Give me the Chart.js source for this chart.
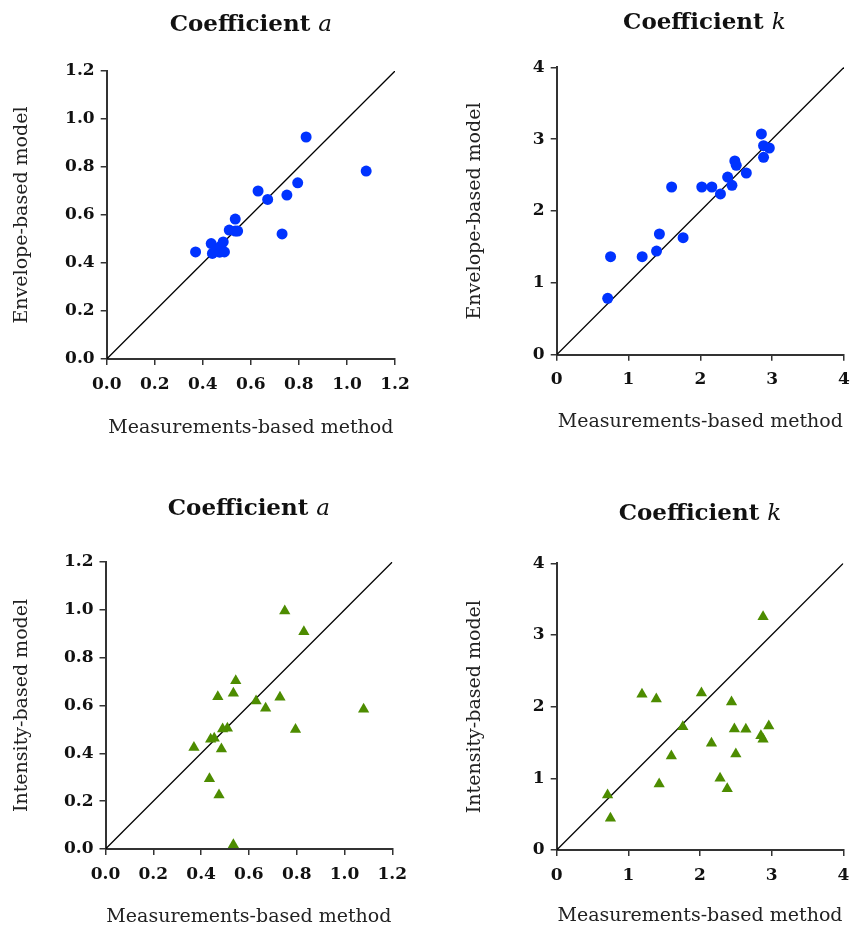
<!DOCTYPE html>
<html>
<head>
<meta charset="utf-8">
<script src="https://cdn.jsdelivr.net/npm/chart.js@4/dist/chart.umd.min.js"></script>
<style>
body{margin:0;background:#fff;}
#wrap{position:relative;width:850px;height:931px;}
canvas{position:absolute;}
</style>
</head>
<body>
<div id="wrap">
<canvas id="c1" width="425" height="460" style="left:0;top:0"></canvas>
<canvas id="c2" width="425" height="460" style="left:425px;top:0"></canvas>
<canvas id="c3" width="425" height="466" style="left:0;top:465px"></canvas>
<canvas id="c4" width="425" height="466" style="left:425px;top:465px"></canvas>
</div>
<script>
// coefficient a
const measuredA = [0.37, 0.435, 0.44, 0.455, 0.47, 0.475, 0.485, 0.49, 0.51, 0.535, 0.535, 0.545, 0.63, 0.67, 0.73, 0.75, 0.795, 0.83, 1.08];
const envelopeA = [0.446, 0.481, 0.44, 0.456, 0.445, 0.47, 0.488, 0.446, 0.537, 0.583, 0.533, 0.533, 0.70, 0.665, 0.521, 0.683, 0.734, 0.925, 0.783];
const intensityA = [0.424, 0.294, 0.459, 0.463, 0.637, 0.226, 0.418, 0.502, 0.505, 0.651, 0.018, 0.704, 0.619, 0.588, 0.634, 0.995, 0.50, 0.908, 0.584];
// coefficient k
const measuredK = [0.71, 0.75, 1.19, 1.39, 1.43, 1.60, 1.76, 2.02, 2.16, 2.28, 2.38, 2.44, 2.48, 2.50, 2.64, 2.85, 2.88, 2.88, 2.96];
const envelopeK = [0.785, 1.364, 1.364, 1.443, 1.68, 2.334, 1.628, 2.334, 2.334, 2.237, 2.473, 2.357, 2.696, 2.636, 2.529, 3.072, 2.909, 2.747, 2.877];
const intensityK = [0.767, 0.442, 2.172, 2.106, 0.92, 1.311, 1.72, 2.19, 1.488, 1.0, 0.855, 2.064, 1.688, 1.339, 1.683, 1.594, 3.254, 1.544, 1.729];

const ticksA = [0, 0.2, 0.4, 0.6, 0.8, 1.0, 1.2];
const ticksK = [0, 1, 2, 3, 4];

const xTitle = 'Measurements-based method';
const blue = '#0033ff';
const green = '#4d8c00';

const titlePlugin = {
    id: 'coefTitle',
    afterDraw(chart, args, opts){
        const ctx = chart.ctx;
        const {left, right} = chart.chartArea;
        ctx.save();
        ctx.fillStyle = '#111';
        ctx.textBaseline = 'alphabetic';
        ctx.font = 'bold 23px "DejaVu Serif"';
        const w1 = ctx.measureText('Coefficient ').width;
        ctx.font = 'italic 23px "DejaVu Serif"';
        const w2 = ctx.measureText(opts.letter).width;
        let x = (left + right) / 2 - (w1 + w2) / 2 + (opts.dx || 0);
        ctx.font = 'bold 23px "DejaVu Serif"';
        ctx.fillText('Coefficient ', x, opts.y);
        ctx.font = 'italic 23px "DejaVu Serif"';
        ctx.fillText(opts.letter, x + w1, opts.y);
        ctx.restore();
    }
};

const makePanel = (id, xs, ys, cfg) =>{
    const canvas = document.getElementById(id);
    const W = canvas.width, H = canvas.height;
    const area = cfg.area;
    const points = xs.map((x, i) => ({x: x, y: ys[i]}));
    const axis = (ticks, fmt, isX) => ({
        type: 'linear',
        min: ticks[0],
        max: ticks[ticks.length - 1],
        afterBuildTicks: s => { s.ticks = ticks.map(v => ({value: v})); },
        afterFit: s => {
            if(isX){
                s.height = H - area.bottom;
                s.paddingLeft = 0;
                s.paddingRight = 0;
            }else{
                s.width = area.left;
                s.paddingTop = 0;
                s.paddingBottom = 0;
            }
        },
        ticks: {
            color: '#111',
            padding: isX ? 9 : 6,
            font: {family: '"DejaVu Serif"', size: 17, weight: 'bold'},
            callback: v => fmt(v),
            maxRotation: 0,
            autoSkip: false
        },
        grid: {drawOnChartArea: false, drawTicks: true, tickLength: 6, color: '#333', lineWidth: 1.5},
        border: {color: '#333', width: 2},
        title: {
            display: true,
            text: isX ? xTitle : cfg.yTitle,
            color: '#222',
            font: {family: '"DejaVu Serif"', size: 19},
            padding: isX ? {top: 0, bottom: cfg.xTitlePad} : {top: cfg.yTitlePad, bottom: 0}
        }
    });
    return new Chart(canvas, {
        type: 'scatter',
        data: {
            datasets: [{
                data: points,
                pointStyle: cfg.marker,
                pointRadius: cfg.marker === 'circle' ? 5.5 : 6.5,
                backgroundColor: cfg.color,
                borderColor: cfg.color,
                borderWidth: 0,
                order: 1
            }, {
                data: [{x: 0, y: 0}, {x: cfg.ticks[cfg.ticks.length - 1], y: cfg.ticks[cfg.ticks.length - 1]}],
                showLine: true,
                pointRadius: 0,
                borderColor: '#000',
                borderWidth: 1.3,
                order: 2
            }]
        },
        options: {
            responsive: false,
            animation: false,
            layout: {padding: {top: area.top, right: W - area.right, left: 0, bottom: 0}},
            plugins: {
                legend: {display: false},
                tooltip: {enabled: false},
                coefTitle: {letter: cfg.letter, y: cfg.titleY, dx: cfg.titleDx}
            },
            scales: {
                x: axis(cfg.ticks, cfg.fmt, true),
                y: axis(cfg.ticks, cfg.fmt, false)
            }
        },
        plugins: [titlePlugin]
    });
}

const fmtA = v => v.toFixed(1);
const fmtK = v => String(Math.round(v));

makePanel('c1', measuredA, envelopeA, {
    area: {left: 106.7, top: 71, right: 395, bottom: 359},
    ticks: ticksA, fmt: fmtA, letter: 'a', titleY: 31, titleDx: 0,
    yTitle: 'Envelope-based model', yTitlePad: 11, xTitlePad: 21,
    marker: 'circle', color: blue
});
makePanel('c2', measuredK, envelopeK, {
    area: {left: 131.7, top: 67.3, right: 419, bottom: 354.7},
    ticks: ticksK, fmt: fmtK, letter: 'k', titleY: 29, titleDx: 4,
    yTitle: 'Envelope-based model', yTitlePad: 39, xTitlePad: 27,
    marker: 'circle', color: blue
});
makePanel('c3', measuredA, intensityA, {
    area: {left: 105.5, top: 97, right: 392.3, bottom: 384},
    ticks: ticksA, fmt: fmtA, letter: 'a', titleY: 50, titleDx: 0,
    yTitlePad: 11, yTitle: 'Intensity-based model', xTitlePad: 3,
    marker: 'triangle', color: green
});
makePanel('c4', measuredK, intensityK, {
    area: {left: 131.7, top: 98.3, right: 418.3, bottom: 385},
    ticks: ticksK, fmt: fmtK, letter: 'k', titleY: 55, titleDx: 0,
    yTitlePad: 39, yTitle: 'Intensity-based model', xTitlePad: 4,
    marker: 'triangle', color: green
});
</script>
</body>
</html>
